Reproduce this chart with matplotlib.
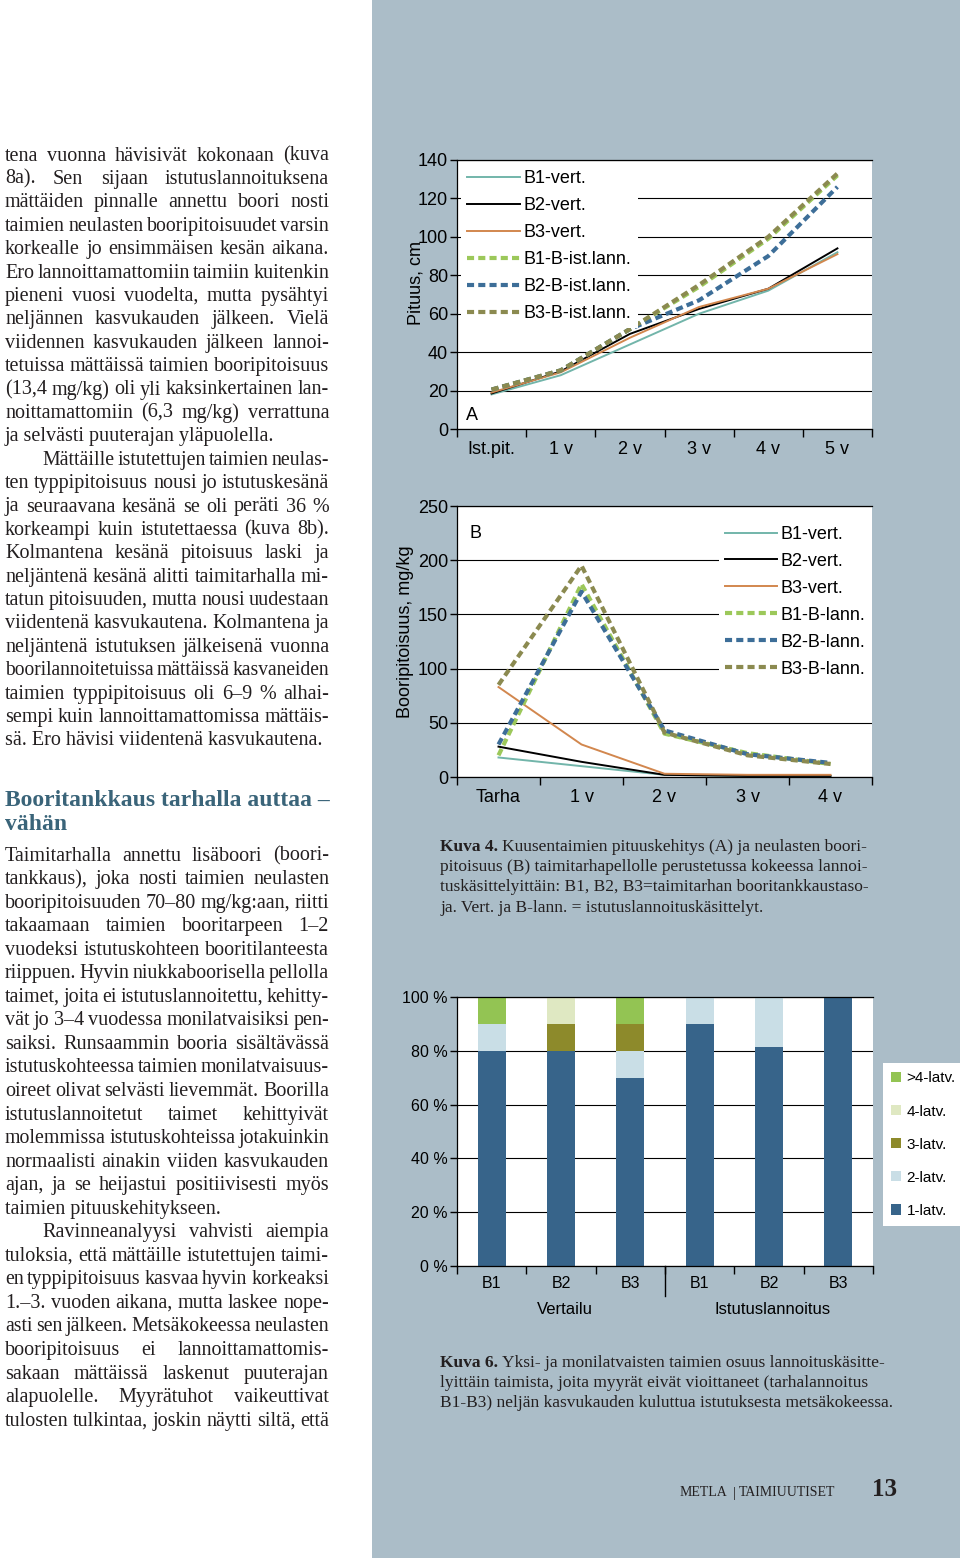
import matplotlib
matplotlib.use( 'Agg' )
import numpy as np
import matplotlib.pyplot as plt
from matplotlib.font_manager import FontProperties
from matplotlib.patches import Patch, Rectangle

# --- chart A: height development (cm)
yearsA = [ 'Ist.pit.', '1 v', '2 v', '3 v', '4 v', '5 v' ]
heightB1vert = [ 18, 28, 44, 60, 72, 92 ]
heightB2vert = [ 18.5, 30, 49.5, 62.5, 73, 94 ]
heightB3vert = [ 19, 29.5, 47.5, 63.5, 73, 91 ]
heightB1lann = [ 20.5, 30.5, 52, 74, 99, 132 ]
heightB2lann = [ 20.5, 30.5, 52, 67, 90, 126 ]
heightB3lann = [ 20.5, 30.5, 52, 75, 100, 133 ]
labelsA = [ 'B1-vert.', 'B2-vert.', 'B3-vert.', 'B1-B-ist.lann.', 'B2-B-ist.lann.', 'B3-B-ist.lann.' ]

# --- chart B: needle boron content (mg/kg)
yearsB = [ 'Tarha', '1 v', '2 v', '3 v', '4 v' ]
boronB1vert = [ 18, 10, 2, 1, 1 ]
boronB2vert = [ 28, 14, 2, 1, 1 ]
boronB3vert = [ 83, 30, 3, 2, 2 ]
boronB1lann = [ 20, 178, 40, 22, 12 ]
boronB2lann = [ 30, 171, 43, 21, 13 ]
boronB3lann = [ 85, 195, 41, 20, 12 ]
labelsB = [ 'B1-vert.', 'B2-vert.', 'B3-vert.', 'B1-B-lann.', 'B2-B-lann.', 'B3-B-lann.' ]

# --- chart C: share of single- and multi-topped seedlings (%)
barLabels = [ 'B1', 'B2', 'B3', 'B1', 'B2', 'B3' ]
groupLabels = [ 'Vertailu', 'Istutuslannoitus' ]
latv1 = [ 80, 80, 70, 90, 81.5, 100 ]
latv2 = [ 10, 0, 10, 10, 18.5, 0 ]
latv3 = [ 0, 10, 10, 0, 0, 0 ]
latv4 = [ 0, 10, 0, 0, 0, 0 ]
latvMore = [ 10, 0, 10, 0, 0, 0 ]
latvLabels = [ '1-latv.', '2-latv.', '3-latv.', '4-latv.', '>4-latv.' ]

# --- page text ('>' = indented first line, '|' = last line of a paragraph)
column1 = [
    'tena vuonna hävisivät kokonaan (kuva',
    '8a). Sen sijaan istutuslannoituksena',
    'mättäiden pinnalle annettu boori nosti',
    'taimien neulasten booripitoisuudet varsin',
    'korkealle jo ensimmäisen kesän aikana.',
    'Ero lannoittamattomiin taimiin kuitenkin',
    'pieneni vuosi vuodelta, mutta pysähtyi',
    'neljännen kasvukauden jälkeen. Vielä',
    'viidennen kasvukauden jälkeen lannoi-',
    'tetuissa mättäissä taimien booripitoisuus',
    '(13,4 mg/kg) oli yli kaksinkertainen lan-',
    'noittamattomiin (6,3 mg/kg) verrattuna',
    'ja selvästi puuterajan yläpuolella.|',
    '>Mättäille istutettujen taimien neulas-',
    'ten typpipitoisuus nousi jo istutuskesänä',
    'ja seuraavana kesänä se oli peräti 36 %',
    'korkeampi kuin istutettaessa (kuva 8b).',
    'Kolmantena kesänä pitoisuus laski ja',
    'neljäntenä kesänä alitti taimitarhalla mi-',
    'tatun pitoisuuden, mutta nousi uudestaan',
    'viidentenä kasvukautena. Kolmantena ja',
    'neljäntenä istutuksen jälkeisenä vuonna',
    'boorilannoitetuissa mättäissä kasvaneiden',
    'taimien typpipitoisuus oli 6–9 % alhai-',
    'sempi kuin lannoittamattomissa mättäis-',
    'sä. Ero hävisi viidentenä kasvukautena.|',
]
heading = [ 'Booritankkaus tarhalla auttaa –', 'vähän' ]
column2 = [
    'Taimitarhalla annettu lisäboori (boori-',
    'tankkaus), joka nosti taimien neulasten',
    'booripitoisuuden 70–80 mg/kg:aan, riitti',
    'takaamaan taimien booritarpeen 1–2',
    'vuodeksi istutuskohteen booritilanteesta',
    'riippuen. Hyvin niukkaboorisella pellolla',
    'taimet, joita ei istutuslannoitettu, kehitty-',
    'vät jo 3–4 vuodessa monilatvaisiksi pen-',
    'saiksi. Runsaammin booria sisältävässä',
    'istutuskohteessa taimien monilatvaisuus-',
    'oireet olivat selvästi lievemmät. Boorilla',
    'istutuslannoitetut taimet kehittyivät',
    'molemmissa istutuskohteissa jotakuinkin',
    'normaalisti ainakin viiden kasvukauden',
    'ajan, ja se heijastui positiivisesti myös',
    'taimien pituuskehitykseen.|',
    '>Ravinneanalyysi vahvisti aiempia',
    'tuloksia, että mättäille istutettujen taimi-',
    'en typpipitoisuus kasvaa hyvin korkeaksi',
    '1.–3. vuoden aikana, mutta laskee nope-',
    'asti sen jälkeen. Metsäkokeessa neulasten',
    'booripitoisuus ei lannoittamattomis-',
    'sakaan mättäissä laskenut puuterajan',
    'alapuolelle. Myyrätuhot vaikeuttivat',
    'tulosten tulkintaa, joskin näytti siltä, että',
]
caption4 = [ ( 'Kuva 4.', 'Kuusentaimien pituuskehitys (A) ja neulasten boori-' ),
             ( '', 'pitoisuus (B) taimitarhapellolle perustetussa kokeessa lannoi-' ),
             ( '', 'tuskäsittelyittäin: B1, B2, B3=taimitarhan booritankkaustaso-' ),
             ( '', 'ja. Vert. ja B-lann. = istutuslannoituskäsittelyt.' ) ]
caption6 = [ ( 'Kuva 6.', 'Yksi- ja monilatvaisten taimien osuus lannoituskäsitte-' ),
             ( '', 'lyittäin taimista, joita myyrät eivät vioittaneet (tarhalannoitus' ),
             ( '', 'B1-B3) neljän kasvukauden kuluttua istutuksesta metsäkokeessa.' ) ]

W, H = 960, 1558
panelColor = '#abbdc8'
textColor = '#231f20'
headingColor = '#3a6479'
lineColors = [ '#72b5aa', '#000000', '#d2874e', '#9cc85a', '#3d6e98', '#8b8a50' ]
barColors = [ '#37648a', '#c9dee6', '#8d8a2b', '#dfe8c2', '#93c453' ]

plt.rcParams['font.family'] = [ 'Liberation Sans', 'DejaVu Sans' ]

fig = plt.figure( figsize = ( W / 100, H / 100 ), dpi = 100 )
bg = fig.add_axes( [ 0, 0, 1, 1 ] )
bg.set_xlim( 0, W )
bg.set_ylim( H, 0 )
bg.axis( 'off' )
bg.add_patch( Rectangle( ( 372, 0 ), W - 372, H, color = panelColor, lw = 0 ) )

renderer = fig.canvas.get_renderer()

def textWidth( s, prop ):
    return renderer.get_text_width_height_descent( s, prop, ismath = False )[0]

def serif( size, weight = 'normal' ):
    return FontProperties( family = 'Liberation Serif', size = size, weight = weight )

def writeColumn( lines, x0, x1, y0, step, size, minGap = 3.5 ):
    y = y0
    for line in lines:
        x = x0
        prop = serif( size )
        if line.startswith( '>' ):
            line = line[1:]
            x = x0 + 37
        if line.endswith( '|' ):
            bg.text( x, y, line[:-1], fontproperties = prop, color = textColor, va = 'baseline' )
        else:
            # justified line: spread the words over the column width,
            # shrinking the font a little where the words would not fit
            words = line.split( ' ' )
            widths = [ textWidth( w, prop ) for w in words ]
            needed = sum( widths ) + minGap * ( len( words ) - 1 )
            if needed > x1 - x:
                prop = serif( size * ( x1 - x - minGap * ( len( words ) - 1 ) ) / sum( widths ) )
                widths = [ textWidth( w, prop ) for w in words ]
            gap = ( x1 - x - sum( widths ) ) / ( len( words ) - 1 )
            for w, ww in zip( words, widths ):
                bg.text( x, y, w, fontproperties = prop, color = textColor, va = 'baseline' )
                x += ww + gap
        y += step

writeColumn( column1, 5, 329, 160.5, 23.4, 14.5 )
for i, line in enumerate( heading ):
    bg.text( 5, 805.5 + 24.5 * i, line, fontproperties = serif( 17, 'bold' ), color = headingColor, va = 'baseline' )
writeColumn( column2, 5, 329, 860.5, 23.55, 14.5 )

def writeCaption( lines, x, y0, step ):
    boldFont = serif( 12.5, 'bold' )
    normalFont = serif( 12.5 )
    space = textWidth( 'a a', normalFont ) - textWidth( 'aa', normalFont )
    for i, ( bold, rest ) in enumerate( lines ):
        y = y0 + step * i
        xx = x
        if bold:
            bg.text( xx, y, bold, fontproperties = boldFont, color = textColor, va = 'baseline' )
            xx += textWidth( bold, boldFont ) + space
        bg.text( xx, y, rest, fontproperties = normalFont, color = textColor, va = 'baseline' )

writeCaption( caption4, 440, 850.5, 20.4 )
writeCaption( caption6, 440, 1367, 19.9 )

footFont = serif( 10 )
bg.text( 680, 1496.5, 'METLA', fontproperties = footFont, color = textColor, va = 'baseline' )
bg.text( 733, 1496.5, '|', fontproperties = footFont, color = textColor, va = 'baseline' )
bg.text( 739, 1496.5, 'TAIMIUUTISET', fontproperties = footFont, color = textColor, va = 'baseline' )
bg.text( 872, 1496, '13', fontproperties = serif( 18, 'bold' ), color = textColor, va = 'baseline' )

bg.text( 416, 283, 'Pituus, cm', fontsize = 13, rotation = 90, ha = 'center', va = 'center' )
bg.text( 406, 632, 'Booripitoisuus, mg/kg', fontsize = 13, rotation = 90, ha = 'center', va = 'center' )

def pxAxes( left, top, right, bottom ):
    return fig.add_axes( [ left / W, 1 - bottom / H, ( right - left ) / W, ( bottom - top ) / H ] )

def styleAxes( ax, categories, ymax, ystep, fmt, size, pad ):
    n = len( categories )
    ax.set_facecolor( 'white' )
    ax.set_xlim( -0.5, n - 0.5 )
    ax.set_ylim( 0, ymax )
    ticks = np.arange( 0, ymax + 1, ystep )
    ax.set_yticks( ticks, [ fmt.format( t ) for t in ticks ], fontsize = size )
    ax.set_xticks( np.arange( n + 1 ) - 0.5, [ '' ] * ( n + 1 ) )
    ax.set_xticks( np.arange( n ), categories, minor = True, fontsize = size )
    ax.tick_params( axis = 'x', which = 'major', length = 6, width = 1 )
    ax.tick_params( axis = 'x', which = 'minor', length = 0, pad = pad )
    ax.tick_params( axis = 'y', length = 5, width = 1, pad = 1.5 )
    ax.grid( axis = 'y', color = 'black', lw = 0.8 )
    ax.set_axisbelow( True )
    ax.spines['right'].set_visible( False )
    for s in [ 'left', 'bottom', 'top' ]:
        ax.spines[s].set_linewidth( 0.9 )

def drawLines( ax, seriesList, labels ):
    for i, ( values, label ) in enumerate( zip( seriesList, labels ) ):
        if i < 3:
            ax.plot( np.arange( len( values ) ), values, color = lineColors[i], lw = 1.4, label = label )
        else:
            ax.plot( np.arange( len( values ) ), values, color = lineColors[i], lw = 3.0,
                     dashes = ( 1.7, 1.0 ), label = label )

legendStyle = dict( fontsize = 13, frameon = True, facecolor = 'white', edgecolor = 'none', fancybox = False,
                    framealpha = 1, handlelength = 2.9, handletextpad = 0.2, labelspacing = 0.55,
                    borderpad = 0.35, borderaxespad = 0 )

# chart A
axA = pxAxes( 457, 160, 872, 429 )
styleAxes( axA, yearsA, 140, 20, '{}', 13, 9 )
drawLines( axA, [ heightB1vert, heightB2vert, heightB3vert, heightB1lann, heightB2lann, heightB3lann ], labelsA )
axA.legend( loc = 'upper left', bbox_to_anchor = ( 0.01, 0.985 ), **legendStyle )
axA.text( 0.022, 0.052, 'A', transform = axA.transAxes, fontsize = 13, ha = 'left', va = 'center' )

# chart B
axB = pxAxes( 457, 506, 872, 777 )
styleAxes( axB, yearsB, 250, 50, '{}', 13, 9 )
drawLines( axB, [ boronB1vert, boronB2vert, boronB3vert, boronB1lann, boronB2lann, boronB3lann ], labelsB )
axB.legend( loc = 'upper right', bbox_to_anchor = ( 1.0, 0.95 ), **legendStyle )
axB.text( 0.03, 0.9, 'B', transform = axB.transAxes, fontsize = 13, ha = 'left', va = 'center' )

# chart C
axC = pxAxes( 457, 997, 873, 1266 )
styleAxes( axC, barLabels, 100, 20, '{} %', 11.5, 7 )
bottom = np.zeros( len( barLabels ) )
for values, color, label in zip( [ latv1, latv2, latv3, latv4, latvMore ], barColors, latvLabels ):
    axC.bar( np.arange( len( barLabels ) ), values, 0.4, bottom = bottom, color = color, label = label )
    bottom += np.array( values )
axC.plot( [ 2.5, 2.5 ], [ 0, -30 / 269 ], transform = axC.get_xaxis_transform(), clip_on = False,
          color = 'black', lw = 1 )
for center, label in zip( [ 1, 4 ], groupLabels ):
    axC.text( center + 0.05, -0.16, label, transform = axC.get_xaxis_transform(), fontsize = 12,
              ha = 'center', va = 'center' )
handles = [ Patch( facecolor = c ) for c in barColors ][::-1]
axC.legend( handles, latvLabels[::-1], loc = 'upper left', bbox_to_anchor = ( 883 / W, 1 - 1063 / H ),
            bbox_transform = fig.transFigure, fontsize = 11, frameon = True, facecolor = 'white',
            edgecolor = 'none', fancybox = False, framealpha = 1, handlelength = 0.65, handleheight = 0.65,
            handletextpad = 0.35, labelspacing = 1.25, borderpad = 0.55, borderaxespad = 0 )

fig.savefig( 'out.png', dpi = 100 )
